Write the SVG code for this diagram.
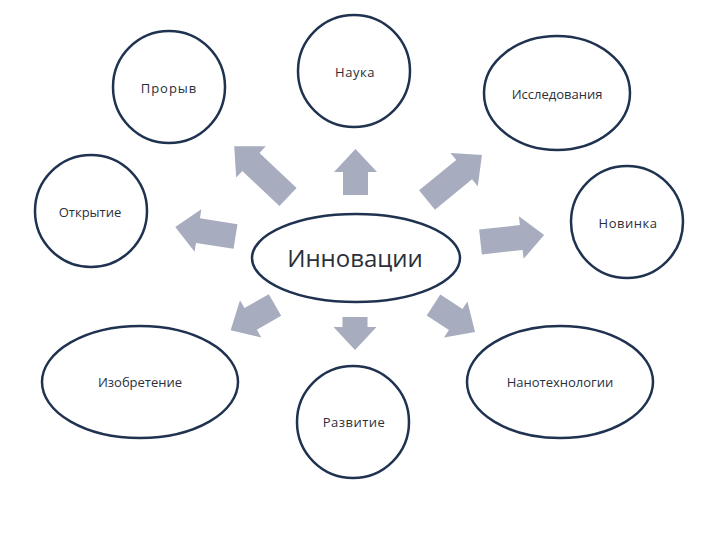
<svg xmlns="http://www.w3.org/2000/svg" width="720" height="540" viewBox="0 0 720 540">
<style>
.n{fill:#ffffff;stroke:#1f3250;stroke-width:2.5}
.t{font-family:"Open Sans","Liberation Sans",sans-serif;font-size:13px;fill:#2a2f3a;text-anchor:middle}
.big{font-size:24px}
.a{fill:#a7acbe}
</style>
<rect width="720" height="540" fill="#ffffff"/>
<g id="connectors">
<polygon class="a" transform="translate(288,197) rotate(-136.6)" points="0,-12.5 51,-12.5 51,-21.5 74,0 51,21.5 51,12.5 0,12.5"/>
<polygon class="a" transform="translate(355.5,195) rotate(-90)" points="0,-12.5 23,-12.5 23,-21.5 46,0 23,21.5 23,12.5 0,12.5"/>
<polygon class="a" transform="translate(427,200) rotate(-39.3)" points="0,-12.5 48,-12.5 48,-21.5 71,0 48,21.5 48,12.5 0,12.5"/>
<polygon class="a" transform="translate(235.5,236.5) rotate(-171)" points="0,-12.5 38,-12.5 38,-21.5 61,0 38,21.5 38,12.5 0,12.5"/>
<polygon class="a" transform="translate(480.5,242) rotate(-6.3)" points="0,-12.5 41,-12.5 41,-21.5 64,0 41,21.5 41,12.5 0,12.5"/>
<polygon class="a" transform="translate(275,305) rotate(150.4)" points="0,-12.5 28,-12.5 28,-21.5 51,0 28,21.5 28,12.5 0,12.5"/>
<polygon class="a" transform="translate(355,317) rotate(90)" points="0,-12.5 10,-12.5 10,-21.5 33,0 10,21.5 10,12.5 0,12.5"/>
<polygon class="a" transform="translate(433.5,305) rotate(33)" points="0,-12.5 26.5,-12.5 26.5,-21.5 49.5,0 26.5,21.5 26.5,12.5 0,12.5"/>
</g>
<g id="innovacii"><ellipse class="n" cx="356" cy="258" rx="104" ry="44"/><text class="t big" x="355" y="267">Инновации</text></g>
<g id="proryv"><circle class="n" cx="169" cy="87" r="56"/><text class="t" x="169" y="93" letter-spacing="1">Прорыв</text></g>
<g id="nauka"><circle class="n" cx="354" cy="71" r="56"/><text class="t" x="355" y="77" letter-spacing="0.5">Наука</text></g>
<g id="issledovaniya"><ellipse class="n" cx="557" cy="93" rx="73" ry="57"/><text class="t" x="557" y="99">Исследования</text></g>
<g id="otkrytie"><circle class="n" cx="91" cy="211" r="56"/><text class="t" x="90" y="217">Открытие</text></g>
<g id="novinka"><circle class="n" cx="627" cy="222" r="56"/><text class="t" x="628" y="228" letter-spacing="0.5">Новинка</text></g>
<g id="izobretenie"><ellipse class="n" cx="140" cy="382" rx="98" ry="56"/><text class="t" x="140" y="387">Изобретение</text></g>
<g id="razvitie"><circle class="n" cx="353" cy="422" r="56"/><text class="t" x="354" y="427" letter-spacing="0.5">Развитие</text></g>
<g id="nanotehnologii"><ellipse class="n" cx="560" cy="382" rx="93" ry="56"/><text class="t" x="560" y="387">Нанотехнологии</text></g>
</svg>
